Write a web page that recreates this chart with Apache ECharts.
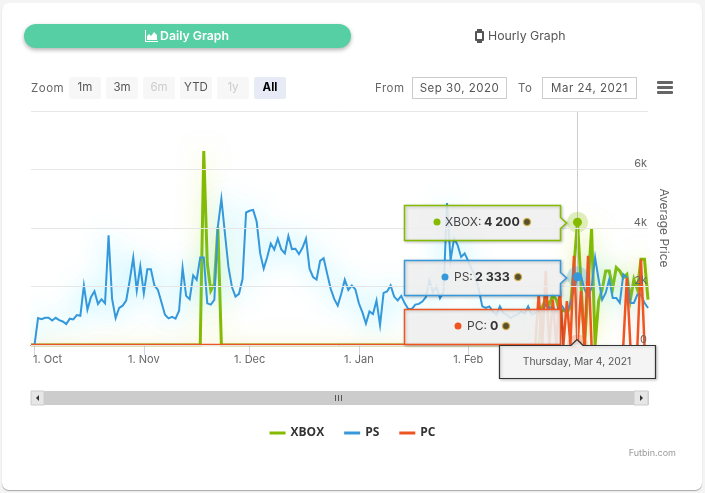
<!DOCTYPE html>
<html>
<head>
<meta charset="utf-8">
<title>Daily Graph</title>
<script src="https://cdn.jsdelivr.net/npm/echarts@6/dist/echarts.min.js"></script>
<style>
    html, body { margin: 0; padding: 0; background: #f4f4f4; }
    body { width: 705px; height: 493px; overflow: hidden; position: relative; font-family: Inter, sans-serif; }
    .card { position: absolute; left: 2px; top: 3px; width: 700px; height: 487px; background: #fff; border-radius: 7px; box-shadow: 0 1px 1px #a8a8a8; }
    #chart { position: absolute; left: 0; top: 0; width: 705px; height: 493px; }
    .abs { position: absolute; white-space: nowrap; }
    .tab-on { left: 24px; top: 24px; width: 327px; height: 24px; border-radius: 12px; background: #55cfa3; box-shadow: 0 2px 4px rgba(0,0,0,.3); }
    .tab-txt { top: 28px; font-size: 12.3px; line-height: 16px; }
    .lbl { top: 81px; font-size: 11.5px; line-height: 15px; color: #666; letter-spacing: .5px; }
    .btn { top: 77px; width: 32px; height: 22px; line-height: 21px; background: #f7f7f7; text-align: center; font-size: 11.5px; color: #555; border-radius: 2px; }
    .btn.off { color: #ccc; }
    .btn.sel { background: #e6ebf5; color: #000; font-weight: 700; }
    .inp { top: 77px; width: 93px; height: 20px; line-height: 20px; border: 1px solid #ccc; text-align: center; font-size: 11.5px; color: #555; letter-spacing: .5px; }
    .bar { left: 657px; width: 16px; height: 3px; background: #666; border-radius: 1px; }
</style>
</head>
<body>
<div class="card"></div>
<div id="chart"></div>

<div class="abs tab-on"></div>
<svg class="abs" style="left:145px;top:30px" width="13" height="12" viewBox="0 0 13 12"><path d="M0 0h1v11h12v1H0z M2 10V6l2-2 2 2 3-4 3 3v5z" fill="#fff"/></svg>
<div class="abs tab-txt" style="left:160px;color:#fff;font-weight:600">Daily Graph</div>
<svg class="abs" style="left:475px;top:29px" width="9" height="14" viewBox="0 0 9 14"><path d="M2 0h5v2h1a1 1 0 0 1 1 1v8a1 1 0 0 1-1 1H7v2H2v-2H1a1 1 0 0 1-1-1V3a1 1 0 0 1 1-1h1z" fill="#555"/><rect x="2" y="4" width="5" height="6" fill="#fff"/></svg>
<div class="abs tab-txt" style="left:488px;color:#555">Hourly Graph</div>

<div class="abs lbl" style="left:31px">Zoom</div>
<div class="abs btn" style="left:69px">1m</div>
<div class="abs btn" style="left:106px">3m</div>
<div class="abs btn off" style="left:143px">6m</div>
<div class="abs btn" style="left:180px">YTD</div>
<div class="abs btn off" style="left:217px">1y</div>
<div class="abs btn sel" style="left:254px">All</div>
<div class="abs lbl" style="left:375px">From</div>
<div class="abs inp" style="left:412px">Sep 30, 2020</div>
<div class="abs lbl" style="left:518px">To</div>
<div class="abs inp" style="left:542px">Mar 24, 2021</div>
<div class="abs bar" style="top:81px"></div>
<div class="abs bar" style="top:86px"></div>
<div class="abs bar" style="top:91px"></div>

<script>
    // one value per day, from Sep 30 2020 to Mar 24 2021
    var startDay = Date.UTC(2020, 8, 30);
    var endDay = Date.UTC(2021, 2, 24);
    var hoverDay = Date.UTC(2021, 2, 4);

    var tickDays = ['2020-10-01', '2020-11-01', '2020-12-01', '2021-01-01', '2021-02-01'];
    var tickLabels = ['1. Oct', '1. Nov', '1. Dec', '1. Jan', '1. Feb'];
    var yTicks = [0, 2000, 4000, 6000, 8000];
    var seriesNames = ['XBOX', 'PS', 'PC'];
    var seriesColors = ['#84bb00', '#3498db', '#ee5522'];
    var hoverValues = [4200, 2333, 0];

    var psValues = [0, 0,
        920, 885, 930, 930, 840, 930, 850, 805, 715, 900, 875, 1025, 1000, 2035, 1210, 1635, 1840, 1405, 1565, 1425,
        3750, 1575, 920, 1265, 1345, 1520, 2210, 2990, 1865, 2690, 1770,
        2590, 2590, 2035, 1885, 1460, 1035, 910, 965, 900, 1175, 2635, 1680, 1565, 2380, 2230, 2990, 2990, 1425, 1380,
        1540, 4050, 5000, 3820, 2670, 1980, 1655, 1750, 2265, 4530,
        4590, 4620, 4220, 3130, 2610, 3010, 3470, 3265, 3635, 3265, 3130, 3725, 3280, 3290, 3105, 3325, 3635, 2610, 2325, 2240,
        2875, 2965, 2440, 1920, 1575, 1345, 1750, 2230, 1885, 2035, 1900,
        1425, 1115, 735, 1150, 1060, 1520, 680, 1780, 1830, 2035, 1655, 1520, 1680, 1425, 1230, 1230, 1380, 1405, 1485, 1635,
        2210, 1805, 2000, 1600, 1805, 4850, 2900, 3645, 3415, 3010, 3130,
        2875, 2590, 2360, 1900, 1320, 1265, 1320, 1150, 1035, 1320, 1090, 1035, 920, 1000, 1035, 1150, 1070, 1320, 1035, 1090,
        1200, 1150, 1380, 1265, 1320, 1090, 1440, 1265, 1090, 1440, 1900,
        2333, 2360, 1900, 1670, 1955, 2990, 2240, 1550, 1780, 2240, 1610, 1610, 1440, 2415, 2300, 1440, 1440, 1725, 1725, 1440, 1265];

    var xboxValues = [0, 0,
        0, 0, 0, 0, 0, 0, 0, 0, 0, 0, 0, 0, 0, 0, 0, 0, 0, 0, 0, 0,
        0, 0, 0, 0, 0, 0, 0, 0, 0, 0, 0,
        0, 0, 0, 0, 0, 0, 0, 0, 0, 0, 0, 0, 0, 0, 0, 0, 6630, 2780, 1860,
        2090, 4020, 0, 0, 0, 0, 0, 0, 0, 0,
        0, 0, 0, 0, 0, 0, 0, 0, 0, 0, 0, 0, 0, 0, 0, 0, 0, 0, 0, 0,
        0, 0, 0, 0, 0, 0, 0, 0, 0, 0, 0,
        0, 0, 0, 0, 0, 0, 0, 0, 0, 0, 0, 0, 0, 0, 0, 0, 0, 0, 0, 0,
        0, 0, 0, 0, 0, 0, 0, 0, 0, 0, 0,
        0, 0, 0, 0, 0, 0, 0, 0, 0, 0, 0, 0, 0, 0, 0, 0, 0, 0, 0, 0,
        0, 1300, 1550, 1380, 1700, 1550, 1100, 1200, 1100, 1300, 2700,
        4200, 2100, 0, 2000, 4000, 0, 1500, 1900, 2530, 2530, 1955, 2645, 2530, 2300, 2415, 1550, 2240, 1900, 2930, 2930, 1550];

    var pcValues = [0, 0,
        0, 0, 0, 0, 0, 0, 0, 0, 0, 0, 0, 0, 0, 0, 0, 0, 0, 0, 0, 0,
        0, 0, 0, 0, 0, 0, 0, 0, 0, 0, 0,
        0, 0, 0, 0, 0, 0, 0, 0, 0, 0, 0, 0, 0, 0, 0, 0, 0, 0, 0,
        0, 0, 0, 0, 0, 0, 0, 0, 0, 0,
        0, 0, 0, 0, 0, 0, 0, 0, 0, 0, 0, 0, 0, 0, 0, 0, 0, 0, 0, 0,
        0, 0, 0, 0, 0, 0, 0, 0, 0, 0, 0,
        0, 0, 0, 0, 0, 0, 0, 0, 0, 0, 0, 0, 0, 0, 0, 0, 0, 0, 0, 0,
        0, 0, 0, 0, 0, 0, 0, 0, 0, 0, 0,
        0, 0, 0, 0, 0, 0, 0, 0, 0, 0, 0, 0, 0, 0, 0, 0, 0, 0, 0, 0,
        1725, 0, 2530, 0, 1550, 0, 1900, 0, 1500, 0, 3050,
        0, 1840, 0, 3050, 0, null, null, null, null, null, null, null, null, 0, 2300, 0, null, 0, 2930, 0, null];

    var tickTimes = tickDays.map(function (d) {
        return new Date(d + 'T00:00:00Z').getTime();
    });

    var toPairs = function (values) {
        return values.map(function (v, i) {
            return [startDay + i * 86400000, v];
        });
    };

    // hovered point with its halo
    var hoverMark = function (index) {
        var coord = [hoverDay, hoverValues[index]];
        return {
            silent: true,
            animation: false,
            symbol: 'circle',
            label: { show: false },
            data: [
                { coord: coord, symbolSize: 21, itemStyle: { color: seriesColors[index], opacity: 0.25 } },
                { coord: coord, symbolSize: 9, itemStyle: { color: seriesColors[index] } }
            ]
        };
    };

    var makeSeries = function (index, values, width, glow, blur) {
        return {
            name: seriesNames[index],
            type: 'line',
            data: toPairs(values),
            showSymbol: false,
            connectNulls: false,
            animation: false,
            itemStyle: { color: seriesColors[index] },
            lineStyle: { color: seriesColors[index], width: width, join: 'miter', shadowColor: glow, shadowBlur: blur },
            markPoint: hoverMark(index)
        };
    };

    /**
     * tooltip box with the small tail pointing right
     */
    var makeBox = function (y, color, tail) {
        var x0 = 404.5, x1 = 560.5, h = 35;
        var points = [[x0, y], [x1, y]];
        if (tail) {
            points.push([x1, y + 12], [x1 + 6, y + 17.5], [x1, y + 23]);
        }
        points.push([x1, y + h], [x0, y + h]);
        return {
            type: 'polygon', z: 50, silent: true,
            shape: { points: points },
            style: { fill: 'rgba(247,247,247,0.86)', stroke: color, lineWidth: 1.5, shadowColor: 'rgba(0,0,0,0.25)', shadowBlur: 3, shadowOffsetX: 1, shadowOffsetY: 1 }
        };
    };

    var txt = function (x, y, text, opts) {
        return {
            type: 'text', z: 51, silent: true, x: x, y: y,
            style: {
                text: text,
                fill: (opts && opts.fill) || '#444',
                font: (opts && opts.font) || '12px Inter, sans-serif',
                align: (opts && opts.align) || 'left',
                verticalAlign: 'middle'
            }
        };
    };

    var dot = function (x, y, color) {
        return { type: 'circle', z: 51, silent: true, shape: { cx: x, cy: y, r: 3.5 }, style: { fill: color } };
    };

    var coin = function (x, y) {
        return { type: 'circle', z: 51, silent: true, shape: { cx: x, cy: y, r: 3.6 }, style: { fill: '#57502e', stroke: '#d0b050', lineWidth: 1.3 } };
    };

    var formatPrice = function (v) {
        return String(v).replace(/\B(?=(\d{3})+$)/g, ' ');
    };

    var bold = 'bold 12.4px Inter, sans-serif';

    var graphics = [
        makeBox(205.5, seriesColors[0], true),
        dot(437, 222, seriesColors[0]),
        txt(445, 222, seriesNames[0] + ':'),
        txt(484, 222, formatPrice(hoverValues[0]), { font: bold, fill: '#333' }),
        coin(527, 222),

        makeBox(260.5, seriesColors[1], true),
        dot(445, 277, seriesColors[1]),
        txt(454, 277, seriesNames[1] + ':'),
        txt(475, 277, formatPrice(hoverValues[1]), { font: bold, fill: '#333' }),
        coin(518, 277),

        makeBox(309.5, seriesColors[2], false),
        dot(458, 326, seriesColors[2]),
        txt(467, 326, seriesNames[2] + ':'),
        txt(490, 326, formatPrice(hoverValues[2]), { font: bold, fill: '#333' }),
        coin(506, 326),

        // date box under the axis
        {
            type: 'polygon', z: 52, silent: true,
            shape: { points: [[499.5, 345.5], [571, 345.5], [577, 339.5], [583, 345.5], [655.5, 345.5], [655.5, 378.5], [499.5, 378.5]] },
            style: { fill: 'rgba(247,247,247,0.92)', stroke: '#333', lineWidth: 1.2, shadowColor: 'rgba(0,0,0,0.25)', shadowBlur: 3, shadowOffsetX: 1, shadowOffsetY: 1 }
        },
        {
            type: 'text', z: 53, silent: true, x: 577, y: 362,
            style: { text: 'Thursday, Mar 4, 2021', fill: '#555', font: '10.3px Inter, sans-serif', align: 'center', verticalAlign: 'middle' }
        },

        // scrollbar buttons and grip
        { type: 'rect', z: 60, silent: true, shape: { x: 31, y: 391, width: 13, height: 14 }, style: { fill: '#e6e6e6', stroke: '#ccc', lineWidth: 1 } },
        { type: 'rect', z: 60, silent: true, shape: { x: 634, y: 391, width: 14, height: 14 }, style: { fill: '#e6e6e6', stroke: '#ccc', lineWidth: 1 } },
        { type: 'polygon', z: 61, silent: true, shape: { points: [[39, 395], [39, 401], [36, 398]] }, style: { fill: '#333' } },
        { type: 'polygon', z: 61, silent: true, shape: { points: [[640, 395], [640, 401], [643, 398]] }, style: { fill: '#333' } },
        { type: 'rect', z: 61, silent: true, shape: { x: 335, y: 395, width: 1, height: 6 }, style: { fill: '#555' } },
        { type: 'rect', z: 61, silent: true, shape: { x: 338, y: 395, width: 1, height: 6 }, style: { fill: '#555' } },
        { type: 'rect', z: 61, silent: true, shape: { x: 341, y: 395, width: 1, height: 6 }, style: { fill: '#555' } },

        { type: 'text', z: 5, silent: true, x: 676, y: 453, style: { text: 'Futbin.com', fill: '#999', font: '9px Inter, sans-serif', align: 'right', verticalAlign: 'middle' } }
    ];

    var xboxSeries = makeSeries(0, xboxValues, 3, 'rgba(215,230,70,0.55)', 22);
    var psSeries = makeSeries(1, psValues, 2, 'rgba(70,225,255,0.8)', 26);
    var pcSeries = makeSeries(2, pcValues, 2.5, 'rgba(238,85,34,0.12)', 8);

    // crosshair on the hovered day
    xboxSeries.markLine = {
        silent: true,
        animation: false,
        symbol: 'none',
        label: { show: false },
        lineStyle: { color: '#ccc', width: 1, type: 'solid' },
        data: [{ xAxis: hoverDay }]
    };

    var chart = echarts.init(document.getElementById('chart'), null, { renderer: 'canvas' });
    chart.setOption({
        animation: false,
        backgroundColor: 'transparent',
        grid: { left: 31, right: 57, top: 111, bottom: 148, containLabel: false },
        xAxis: {
            type: 'value',
            min: startDay,
            max: endDay,
            axisLine: { lineStyle: { color: '#333', width: 1 } },
            axisTick: { length: 10, lineStyle: { color: '#ccd6eb' }, customValues: tickTimes },
            splitLine: { show: false },
            axisLabel: {
                customValues: tickTimes,
                margin: 9,
                color: '#666',
                fontFamily: 'Inter, sans-serif',
                fontSize: 11,
                formatter: function (value) {
                    var i = tickTimes.indexOf(value);
                    // the first label is pushed right, like the original
                    return i === 0 ? '{first|' + tickLabels[i] + '}' : tickLabels[i];
                },
                rich: { first: { padding: [0, 0, 0, 26], color: '#666', fontSize: 11, fontFamily: 'Inter, sans-serif' } }
            }
        },
        yAxis: {
            type: 'value',
            position: 'right',
            min: yTicks[0],
            max: yTicks[yTicks.length - 1],
            interval: yTicks[1] - yTicks[0],
            name: 'Average Price',
            nameLocation: 'middle',
            nameRotate: -90,
            nameGap: 9,
            nameTextStyle: { color: '#666', fontSize: 12, fontFamily: 'Inter, sans-serif' },
            axisLine: { show: false },
            axisTick: { show: false },
            splitLine: { lineStyle: { color: '#e6e6e6', width: 1 } },
            axisLabel: {
                inside: true,
                margin: 1,
                verticalAlign: 'bottom',
                showMaxLabel: false,
                color: '#666',
                fontFamily: 'Inter, sans-serif',
                fontSize: 11,
                formatter: function (v) {
                    return v === 0 ? '0' : (v / 1000) + 'k';
                }
            },
            z: 10
        },
        legend: {
            data: seriesNames,
            top: 422,
            left: 'center',
            icon: 'rect',
            itemWidth: 16,
            itemHeight: 3,
            itemGap: 20,
            textStyle: { color: '#333', fontWeight: 'bold', fontSize: 12, fontFamily: '"Open Sans", sans-serif' }
        },
        dataZoom: [{
            type: 'slider',
            xAxisIndex: 0,
            filterMode: 'none',
            start: 0,
            end: 100,
            left: 31,
            right: 57,
            top: 391,
            height: 14,
            showDetail: false,
            showDataShadow: false,
            brushSelect: false,
            handleSize: 0,
            moveHandleSize: 0,
            borderColor: '#ccc',
            backgroundColor: '#f2f2f2',
            fillerColor: '#ccc'
        }],
        series: [xboxSeries, psSeries, pcSeries],
        graphic: graphics
    });
</script>
</body>
</html>
